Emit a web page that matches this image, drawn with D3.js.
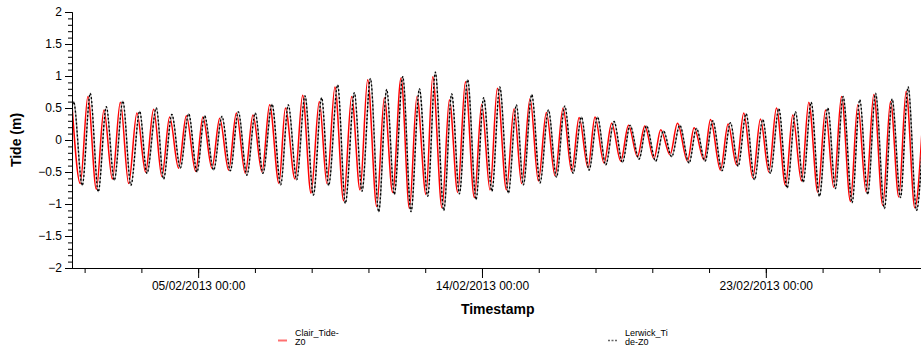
<!DOCTYPE html>
<html>
<head>
<meta charset="utf-8">
<script src="https://cdn.jsdelivr.net/npm/d3@7"></script>
<style>
  body { margin: 0; background: #fff; }
  svg { display: block; }
</style>
</head>
<body>
<div id="chart"></div>
<script>
// hours after 01/02/2013 00:00 of each turning point
const clairHours = [0, 6.3, 12.1, 18.5, 24.3, 30.7, 36.8, 43.1, 49.4, 56.0, 62.1, 68.4, 74.3, 81.1, 87.0, 94.1,
  99.6, 106.5, 112.4, 119.2, 125.1, 131.9, 137.7, 144.6, 150.4, 157.5, 162.4, 169.7, 175.5, 181.9, 188.2,
  194.0, 200.1, 206.7, 212.8, 219.2, 225.0, 231.9, 237.7, 244.0, 250.4, 256.8, 262.5, 269.4, 274.5, 281.6,
  287.2, 293.5, 299.4, 306.2, 311.8, 318.1, 323.7, 330.6, 336.4, 342.2, 348.6, 354.9, 361.0, 367.6, 373.7,
  380.3, 385.9, 392.7, 398.0, 404.9, 410.7, 417.6, 423.5, 430.3, 435.9, 442.9, 448.0, 455.1, 460.8, 468.4,
  473.4, 481.0, 485.9, 493.5, 499.3, 505.7, 511.2, 518.1, 523.9, 530.3, 536.1, 543.0, 548.5, 555.1, 560.7,
  567.6, 573.4, 579.7, 585.6, 592.4, 598.0, 604.3, 610.2, 617.0, 622.9, 629.2, 634.8, 641.4, 648.5];
const clairTide = [0.55, -0.68, 0.68, -0.77, 0.47, -0.61, 0.59, -0.68, 0.42, -0.50, 0.48, -0.57, 0.36, -0.44, 0.38, -0.49,
  0.36, -0.44, 0.34, -0.47, 0.42, -0.52, 0.39, -0.50, 0.55, -0.68, 0.50, -0.61, 0.70, -0.83, 0.60,
  -0.68, 0.83, -0.95, 0.68, -0.78, 0.94, -1.04, 0.66, -0.82, 0.97, -1.07, 0.68, -0.85, 0.99, -1.06,
  0.63, -0.82, 0.91, -0.90, 0.56, -0.78, 0.81, -0.78, 0.49, -0.68, 0.65, -0.64, 0.43, -0.56, 0.50,
  -0.49, 0.35, -0.43, 0.36, -0.36, 0.26, -0.33, 0.23, -0.26, 0.22, -0.29, 0.16, -0.23, 0.26, -0.33,
  0.19, -0.31, 0.32, -0.47, 0.25, -0.39, 0.42, -0.59, 0.33, -0.50, 0.50, -0.71, 0.39, -0.64, 0.59,
  -0.82, 0.47, -0.74, 0.68, -0.96, 0.55, -0.81, 0.71, -1.02, 0.60, -0.89, 0.76, -1.06, 0.75];

const lerwickHours = [0, 1.2, 7.8, 13.9, 20.0, 26.1, 32.2, 38.7, 44.8, 51.5, 57.0, 64.2, 69.7, 76.0, 82.4, 88.8, 95.1,
  100.9, 107.8, 114.1, 120.5, 126.6, 133.1, 139.5, 145.3, 152.2, 158.8, 164.6, 171.0, 177.3, 183.7, 190.0,
  195.3, 202.2, 208.0, 214.9, 220.7, 227.1, 233.4, 239.5, 245.3, 251.7, 258.0, 264.4, 270.7, 276.5, 282.9,
  289.0, 294.8, 301.1, 307.5, 313.3, 319.6, 325.5, 332.1, 338.2, 343.5, 349.9, 356.2, 362.6, 368.7, 375.0,
  381.3, 387.7, 393.5, 399.9, 406.2, 412.5, 418.9, 424.7, 431.5, 437.2, 444.2, 450.1, 456.4, 462.5, 469.6,
  475.2, 481.8, 487.6, 494.7, 501.1, 506.9, 513.0, 519.4, 525.7, 531.5, 537.9, 544.2, 550.6, 556.4, 562.5,
  568.8, 575.2, 581.0, 586.8, 593.7, 599.5, 605.6, 611.5, 618.3, 624.1, 630.5, 636.3, 642.7, 649.0];
const lerwickTide = [0.50, 0.60, -0.71, 0.73, -0.81, 0.52, -0.63, 0.61, -0.71, 0.45, -0.52, 0.50, -0.61, 0.40, -0.44, 0.41, -0.50,
  0.38, -0.47, 0.37, -0.48, 0.44, -0.55, 0.42, -0.52, 0.56, -0.70, 0.55, -0.62, 0.69, -0.86, 0.66,
  -0.71, 0.86, -0.99, 0.74, -0.80, 0.96, -1.12, 0.79, -0.85, 0.99, -1.12, 0.80, -0.88, 1.06, -1.10,
  0.72, -0.84, 0.94, -0.93, 0.66, -0.80, 0.83, -0.83, 0.55, -0.70, 0.71, -0.67, 0.47, -0.58, 0.53,
  -0.52, 0.36, -0.47, 0.36, -0.39, 0.29, -0.35, 0.23, -0.30, 0.22, -0.33, 0.14, -0.26, 0.23, -0.36,
  0.18, -0.33, 0.30, -0.48, 0.27, -0.41, 0.41, -0.62, 0.32, -0.52, 0.49, -0.75, 0.44, -0.66, 0.59,
  -0.88, 0.50, -0.76, 0.68, -0.98, 0.63, -0.85, 0.73, -1.07, 0.64, -0.90, 0.83, -1.10, 0.80];

const yTicks = [-2, -1.5, -1, -0.5, 0, 0.5, 1, 1.5, 2];
const xTickLabels = ["05/02/2013 00:00", "14/02/2013 00:00", "23/02/2013 00:00"];
const seriesNames = ["Clair_Tide-Z0", "Lerwick_Tide-Z0"];

const width = 921, height = 353;
const margin = { left: 72, top: 12, bottom: 85 };
const fontFamily = "'Liberation Sans', Arial, sans-serif";

const start = Date.UTC(2013, 1, 1);
const toDate = h => new Date(start + h * 3600e3);
const parseLabel = s => {
  const p = s.split(/[\/ :]/).map(Number);
  return new Date(Date.UTC(p[2], p[1] - 1, p[0], p[3], p[4]));
};

const clair = clairHours.map((h, i) => ({ t: toDate(h), v: clairTide[i] }));
const lerwick = lerwickHours.map((h, i) => ({ t: toDate(h), v: lerwickTide[i] }));

const svg = d3.select("#chart")
  .append("svg")
  .attr("width", width)
  .attr("height", height);

// the plot runs a little past the right edge of the window
const x = d3.scaleUtc()
  .domain([new Date(start), new Date(Date.UTC(2013, 1, 28))])
  .range([margin.left, 923.5]);

const y = d3.scaleLinear()
  .domain([-2, 2])
  .range([height - margin.bottom, margin.top]);

svg.append("clipPath")
  .attr("id", "plot-clip")
  .append("rect")
  .attr("x", margin.left)
  .attr("y", margin.top - 5)
  .attr("width", 923.5 - margin.left)
  .attr("height", y(-2) - margin.top + 10);

const line = d3.line()
  .x(d => x(d.t))
  .y(d => y(d.v))
  .curve(d3.curveMonotoneX);

const plot = svg.append("g").attr("clip-path", "url(#plot-clip)");

plot.append("path")
  .datum(clair)
  .attr("fill", "none")
  .attr("stroke", "#ff0000")
  .attr("stroke-width", 1.5)
  .attr("d", line);

plot.append("path")
  .datum(lerwick)
  .attr("fill", "none")
  .attr("stroke", "#a0a0a0")
  .attr("stroke-width", 1.5)
  .attr("d", line);

plot.append("path")
  .datum(lerwick)
  .attr("fill", "none")
  .attr("stroke", "#000")
  .attr("stroke-width", 1.3)
  .attr("stroke-dasharray", "2,2")
  .attr("d", line);

// Y axis: labelled every 0.5, small ticks every 0.1
svg.append("g")
  .attr("transform", "translate(" + margin.left + ",0)")
  .call(d3.axisLeft(y).tickValues(d3.range(-20, 21).map(d => d / 10)).tickSize(4).tickFormat(""));

const yAxis = svg.append("g")
  .attr("transform", "translate(" + margin.left + ",0)")
  .call(d3.axisLeft(y).tickValues(yTicks).tickSize(7).tickSizeOuter(0).tickFormat(d3.format("")));

// X axis: minor ticks every 1.8 days, labels every 9 days
const majors = xTickLabels.map(parseLabel);
const minors = d3.range(-2, 13).map(k => new Date(+majors[0] + k * 1.8 * 864e5));

svg.append("g")
  .attr("transform", "translate(0," + y(-2) + ")")
  .call(d3.axisBottom(x).tickValues(minors).tickSize(5).tickSizeOuter(0).tickFormat(""));

const xAxis = svg.append("g")
  .attr("transform", "translate(0," + y(-2) + ")")
  .call(d3.axisBottom(x).tickValues(majors).tickSize(10).tickSizeOuter(0)
    .tickFormat(d3.utcFormat("%d/%m/%Y %H:%M")));

svg.selectAll(".tick text, .domain").attr("fill", null);
svg.selectAll("g").filter(function () { return this.hasAttribute("font-size"); })
  .attr("font-family", fontFamily)
  .attr("font-size", 12);
svg.selectAll(".domain").attr("stroke", "#000");
svg.selectAll(".tick line").attr("stroke", "#000");
svg.selectAll(".tick text").attr("fill", "#000");

// axis titles
svg.append("text")
  .attr("x", (margin.left + 923.5) / 2)
  .attr("y", 314)
  .attr("text-anchor", "middle")
  .attr("font-family", fontFamily)
  .attr("font-size", 14)
  .attr("font-weight", "bold")
  .text("Timestamp");

svg.append("text")
  .attr("transform", "translate(21," + y(0) + ")rotate(-90)")
  .attr("text-anchor", "middle")
  .attr("font-family", fontFamily)
  .attr("font-size", 14)
  .attr("font-weight", "bold")
  .text("Tide (m)");

// legend, names wrapped into a narrow box
const legend = svg.append("g").attr("font-family", fontFamily).attr("font-size", 9);
const legendX = [278, 608];
const wrapped = [["Clair_Tide-", "Z0"], ["Lerwick_Ti", "de-Z0"]];

seriesNames.forEach((name, i) => {
  const g = legend.append("g").attr("transform", "translate(" + legendX[i] + ",0)");
  g.append("line")
    .attr("x1", 0).attr("x2", 9)
    .attr("y1", 340.5).attr("y2", 340.5)
    .attr("stroke", i === 0 ? "#ff7070" : "#666")
    .attr("stroke-width", i === 0 ? 2 : 1.5)
    .attr("stroke-dasharray", i === 0 ? null : "2,1.5");
  g.append("title").text(name);
  wrapped[i].forEach((s, j) => {
    g.append("text")
      .attr("x", 17)
      .attr("y", 336 + j * 9)
      .text(s);
  });
});
</script>
</body>
</html>
